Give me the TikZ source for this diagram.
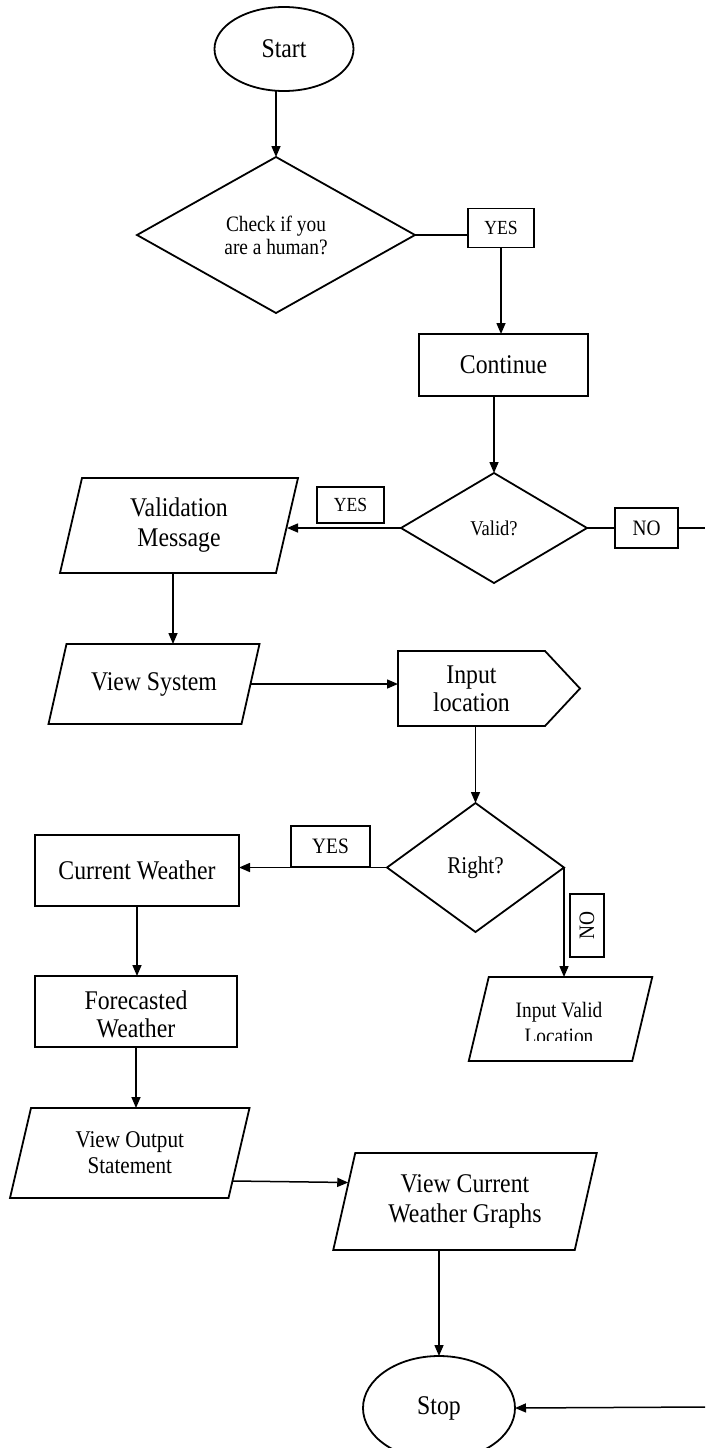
\documentclass[tikz,border=0pt]{standalone}
\usepackage{fontspec}
\setmainfont{Liberation Serif}[FakeStretch=0.88]
\usetikzlibrary{shapes.geometric,arrows.meta,calc}

% slanted input/output box drawn round an invisible rectangle node
\newcommand\paraoutline[2]{%
  \draw[outline] ([xshift=#2]#1.north west) -- ([xshift=#2]#1.north east)
    -- ([xshift=-#2]#1.south east) -- ([xshift=-#2]#1.south west) -- cycle;}

\begin{document}
\begin{tikzpicture}[x=1pt,y=-1pt,
  outline/.style={line width=1.8pt},
  arr/.style={line width=1.5pt,-{Triangle[length=11pt,width=9pt]}},
  link/.style={line width=1.5pt},
  txt/.style={font=\fontsize{27pt}{29pt}\selectfont, align=center, inner sep=0pt, outer sep=0pt},
  box/.style={txt, draw, outline, rectangle},
  tag/.style={draw, outline, rectangle, inner sep=0pt, outer sep=0pt, font=\fontsize{20pt}{22pt}\selectfont},
  decision/.style={txt, diamond, draw, outline},
  terminal/.style={txt, ellipse, draw, outline}
]
\useasboundingbox (0,0) rectangle (705,1448);
\fill[white] (0,0) rectangle (705,1448);
\clip (0,0) rectangle (705,1448);

% ---- nodes ----
\node[terminal, minimum width=139pt, minimum height=84pt] (start) at (284,49) {Start};
\node[decision, minimum width=278pt, minimum height=156pt, font=\fontsize{22pt}{23pt}\selectfont] (chk) at (276,235) {Check if you\\are a human?};
\node[tag, minimum width=66pt, minimum height=39pt] (yes1) at (501,228) {YES};
\node[box, minimum width=169pt, minimum height=62pt] (cont) at (503.5,365) {Continue};
\node[decision, minimum width=186pt, minimum height=110pt, font=\fontsize{21pt}{23pt}\selectfont] (valid) at (494,528) {Valid?};
\node[tag, minimum width=67pt, minimum height=36pt] (yes2) at (350.5,505) {YES};
\node[tag, minimum width=63pt, minimum height=40pt, font=\fontsize{22pt}{24pt}\selectfont] (no1) at (646.5,528) {NO};

\node[txt, minimum width=216pt, minimum height=95pt, font=\fontsize{27pt}{30pt}\selectfont] (vm) at (179,525.5) {Validation\\Message};
\paraoutline{vm}{11pt}
\node[txt, minimum width=193pt, minimum height=80pt] (vs) at (154,684) {View System};
\paraoutline{vs}{9pt}

\node[txt, minimum width=147pt, minimum height=75pt, font=\fontsize{27pt}{28pt}\selectfont] (il) at (471.5,688.5) {Input\\location};
\draw[outline] (il.north west) -- (il.north east) -- ([xshift=35pt]il.east)
  -- (il.south east) -- (il.south west) -- cycle;

\node[decision, minimum width=177pt, minimum height=129pt, font=\fontsize{24pt}{26pt}\selectfont] (right) at (475.5,867.5) {Right?};
\node[tag, minimum width=79pt, minimum height=41pt, font=\fontsize{22pt}{24pt}\selectfont] (yes3) at (330.5,846.5) {YES};
\node[box, minimum width=204pt, minimum height=71pt] (cw) at (137,870.5) {Current Weather};

\node[box, minimum width=202pt, minimum height=71pt] (fw) at (136,1011.5) {};
\begin{scope}
  \clip (35,976) rectangle (237,1037);
  \node[txt, font=\fontsize{27pt}{28pt}\selectfont] (fwtext) at (136,1014) {Forecasted\\Weather};
\end{scope}

\node[tag, rotate=90, minimum width=63pt, minimum height=34pt, font=\fontsize{22pt}{24pt}\selectfont] (no2) at (587,925.5) {NO};

\node[txt, minimum width=163.5pt, minimum height=84pt] (ivl) at (560.5,1019) {};
\paraoutline{ivl}{10pt}
\begin{scope}
  \clip (469,977) rectangle (652,1040);
  \node[txt, font=\fontsize{22pt}{26pt}\selectfont] (ivltext) at (559,1023) {Input Valid\\Location};
\end{scope}

\node[txt, minimum width=218.5pt, minimum height=90pt, font=\fontsize{24pt}{26pt}\selectfont] (vos) at (129.75,1153) {View Output\\Statement};
\paraoutline{vos}{10.5pt}
\node[txt, minimum width=241.5pt, minimum height=97pt, font=\fontsize{27pt}{30pt}\selectfont] (vcwg) at (465,1201.5) {View Current\\Weather Graphs};
\paraoutline{vcwg}{11pt}

\node[terminal, minimum width=152pt, minimum height=104pt] (stop) at (439,1408) {Stop};

\coordinate (edgeA) at (705,526);
\coordinate (edgeB) at (705,1407);

% ---- connectors ----
\draw[arr] (chk.north |- start.south) -- (chk.north);
\draw[link] (chk.east) -- (chk.east -| yes1.west);
\draw[arr] (yes1.south) -- (yes1.south |- cont.north);
\draw[arr] (valid.north |- cont.south) -- (valid.north);
\draw[arr] (valid.west) -- (valid.west -| vm.east);
\draw[link] (valid.east) -- (no1.west);
\draw[link] (no1.east) -- (no1.east -| edgeA);
\draw[arr] ([xshift=-6pt]vm.south) -- ([xshift=-6pt]vm.south |- vs.north);
\draw[arr] (vs.east) -- (vs.east -| il.west);
\draw[arr] (right.north |- il.south) -- (right.north);
\draw[arr] (right.west) -- (right.west -| cw.east);
\draw[arr] (right.east) -- (right.east |- ivl.north);
\draw[arr] (cw.south) -- (cw.south |- fw.north);
\draw[arr] (fw.south) -- (fw.south |- vos.north);
\draw[arr] ([shift={(-6pt,-28pt)}]vos.east) -- ([shift={(4pt,19pt)}]vcwg.west);
\draw[arr] (stop.north |- vcwg.south) -- (stop.north);
\draw[arr] (edgeB) -- (stop.east);
\end{tikzpicture}
\end{document}
